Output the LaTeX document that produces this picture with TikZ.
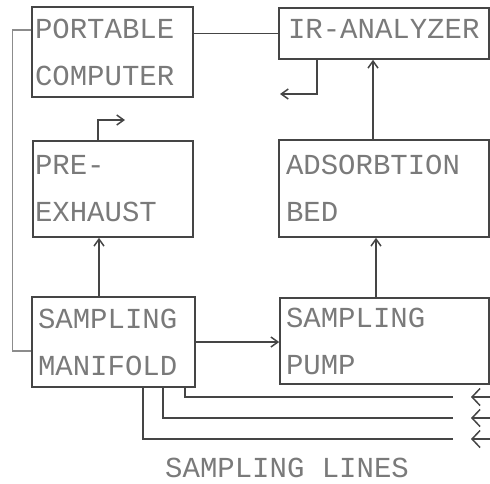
\documentclass[tikz,border=0pt]{standalone}
\usepackage{fontspec}
\newfontfamily\plotfont{Liberation Mono}
\usetikzlibrary{arrows.meta,calc}
\definecolor{inkgray}{HTML}{454545}
\definecolor{textgray}{HTML}{7A7A7A}
\definecolor{faintgray}{HTML}{8C8C8C}

\begin{document}
\begin{tikzpicture}[x=1pt,y=-1pt,
  font=\plotfont\fontsize{29}{47}\selectfont,
  unit/.style={draw=inkgray, line width=1.6pt, align=left, text=textgray, inner ysep=0pt},
  wire/.style={draw=inkgray, line width=1.5pt},
  faint/.style={draw=faintgray, line width=1.3pt},
  flow/.style={wire, -{Straight Barb[length=7pt,width=10pt]}},
  inflow/.style={wire, -{Straight Barb[length=8pt,width=17pt]}}]
  \useasboundingbox (0,0) rectangle (490,483);

  % left column
  \node[unit, inner xsep=3pt, text width=155pt, minimum height=90pt] (comp) at (112.5,52) {PORTABLE\\COMPUTER};
  \node[unit, inner xsep=2pt, text width=156pt, minimum height=96pt] (preex) at (113,189) {PRE-\\EXHAUST};
  \node[unit, inner xsep=6pt, text width=151pt, minimum height=90pt] (manif) at (113.5,342) {SAMPLING\\MANIFOLD};

  % right column
  \node[unit, inner xsep=9pt, text width=192pt, minimum height=51pt, text depth=10pt] (irana) at (384,33.5) {IR-ANALYZER};
  \node[unit, inner xsep=7pt, text width=196pt, minimum height=97pt] (adsorb) at (384,188.5) {ADSORBTION\\BED};
  \node[unit, inner xsep=6pt, text width=197pt, minimum height=86pt] (pump) at (384.5,341) {SAMPLING\\PUMP};

  % signal lines
  \draw[wire] (comp.east |- irana.west) -- (irana.west);
  \draw[faint] ([yshift=22pt]comp.west) -- ++(-19,0) |- ([yshift=-9pt]manif.west);

  % exhausts
  \coordinate (irout) at (280,94);
  \coordinate (preout) at (125,120);
  \draw[flow] ([xshift=39pt]irana.south west) |- (irout);
  \draw[flow] ([xshift=-15pt]preex.north) |- (preout);

  % gas flow
  \draw[flow] ([xshift=-14.5pt]manif.north) -- ([xshift=-14.5pt]manif.north |- preex.south);
  \draw[flow] (manif.east) -- (manif.east -| pump.west);
  \draw[flow] ([xshift=-8.5pt]pump.north) -- ([xshift=-8.5pt]pump.north |- adsorb.south);
  \draw[flow] ([xshift=-11pt]adsorb.north) -- ([xshift=-11pt]adsorb.north |- irana.south);

  % sampling lines
  \foreach \dx/\yy/\n in {71.5/397/1, 49.5/418/2, 29.5/439/3} {
    \coordinate (l\n) at (453,\yy);
    \coordinate (s\n) at (490,\yy);
    \coordinate (t\n) at (471,\yy);
    \draw[wire] ([xshift=\dx pt]manif.south) |- (l\n);
    \draw[inflow] (s\n) -- (t\n);
  }
  \node[text=textgray, anchor=base west, inner sep=0pt] (lines) at (165,477) {SAMPLING LINES};
\end{tikzpicture}
\end{document}
